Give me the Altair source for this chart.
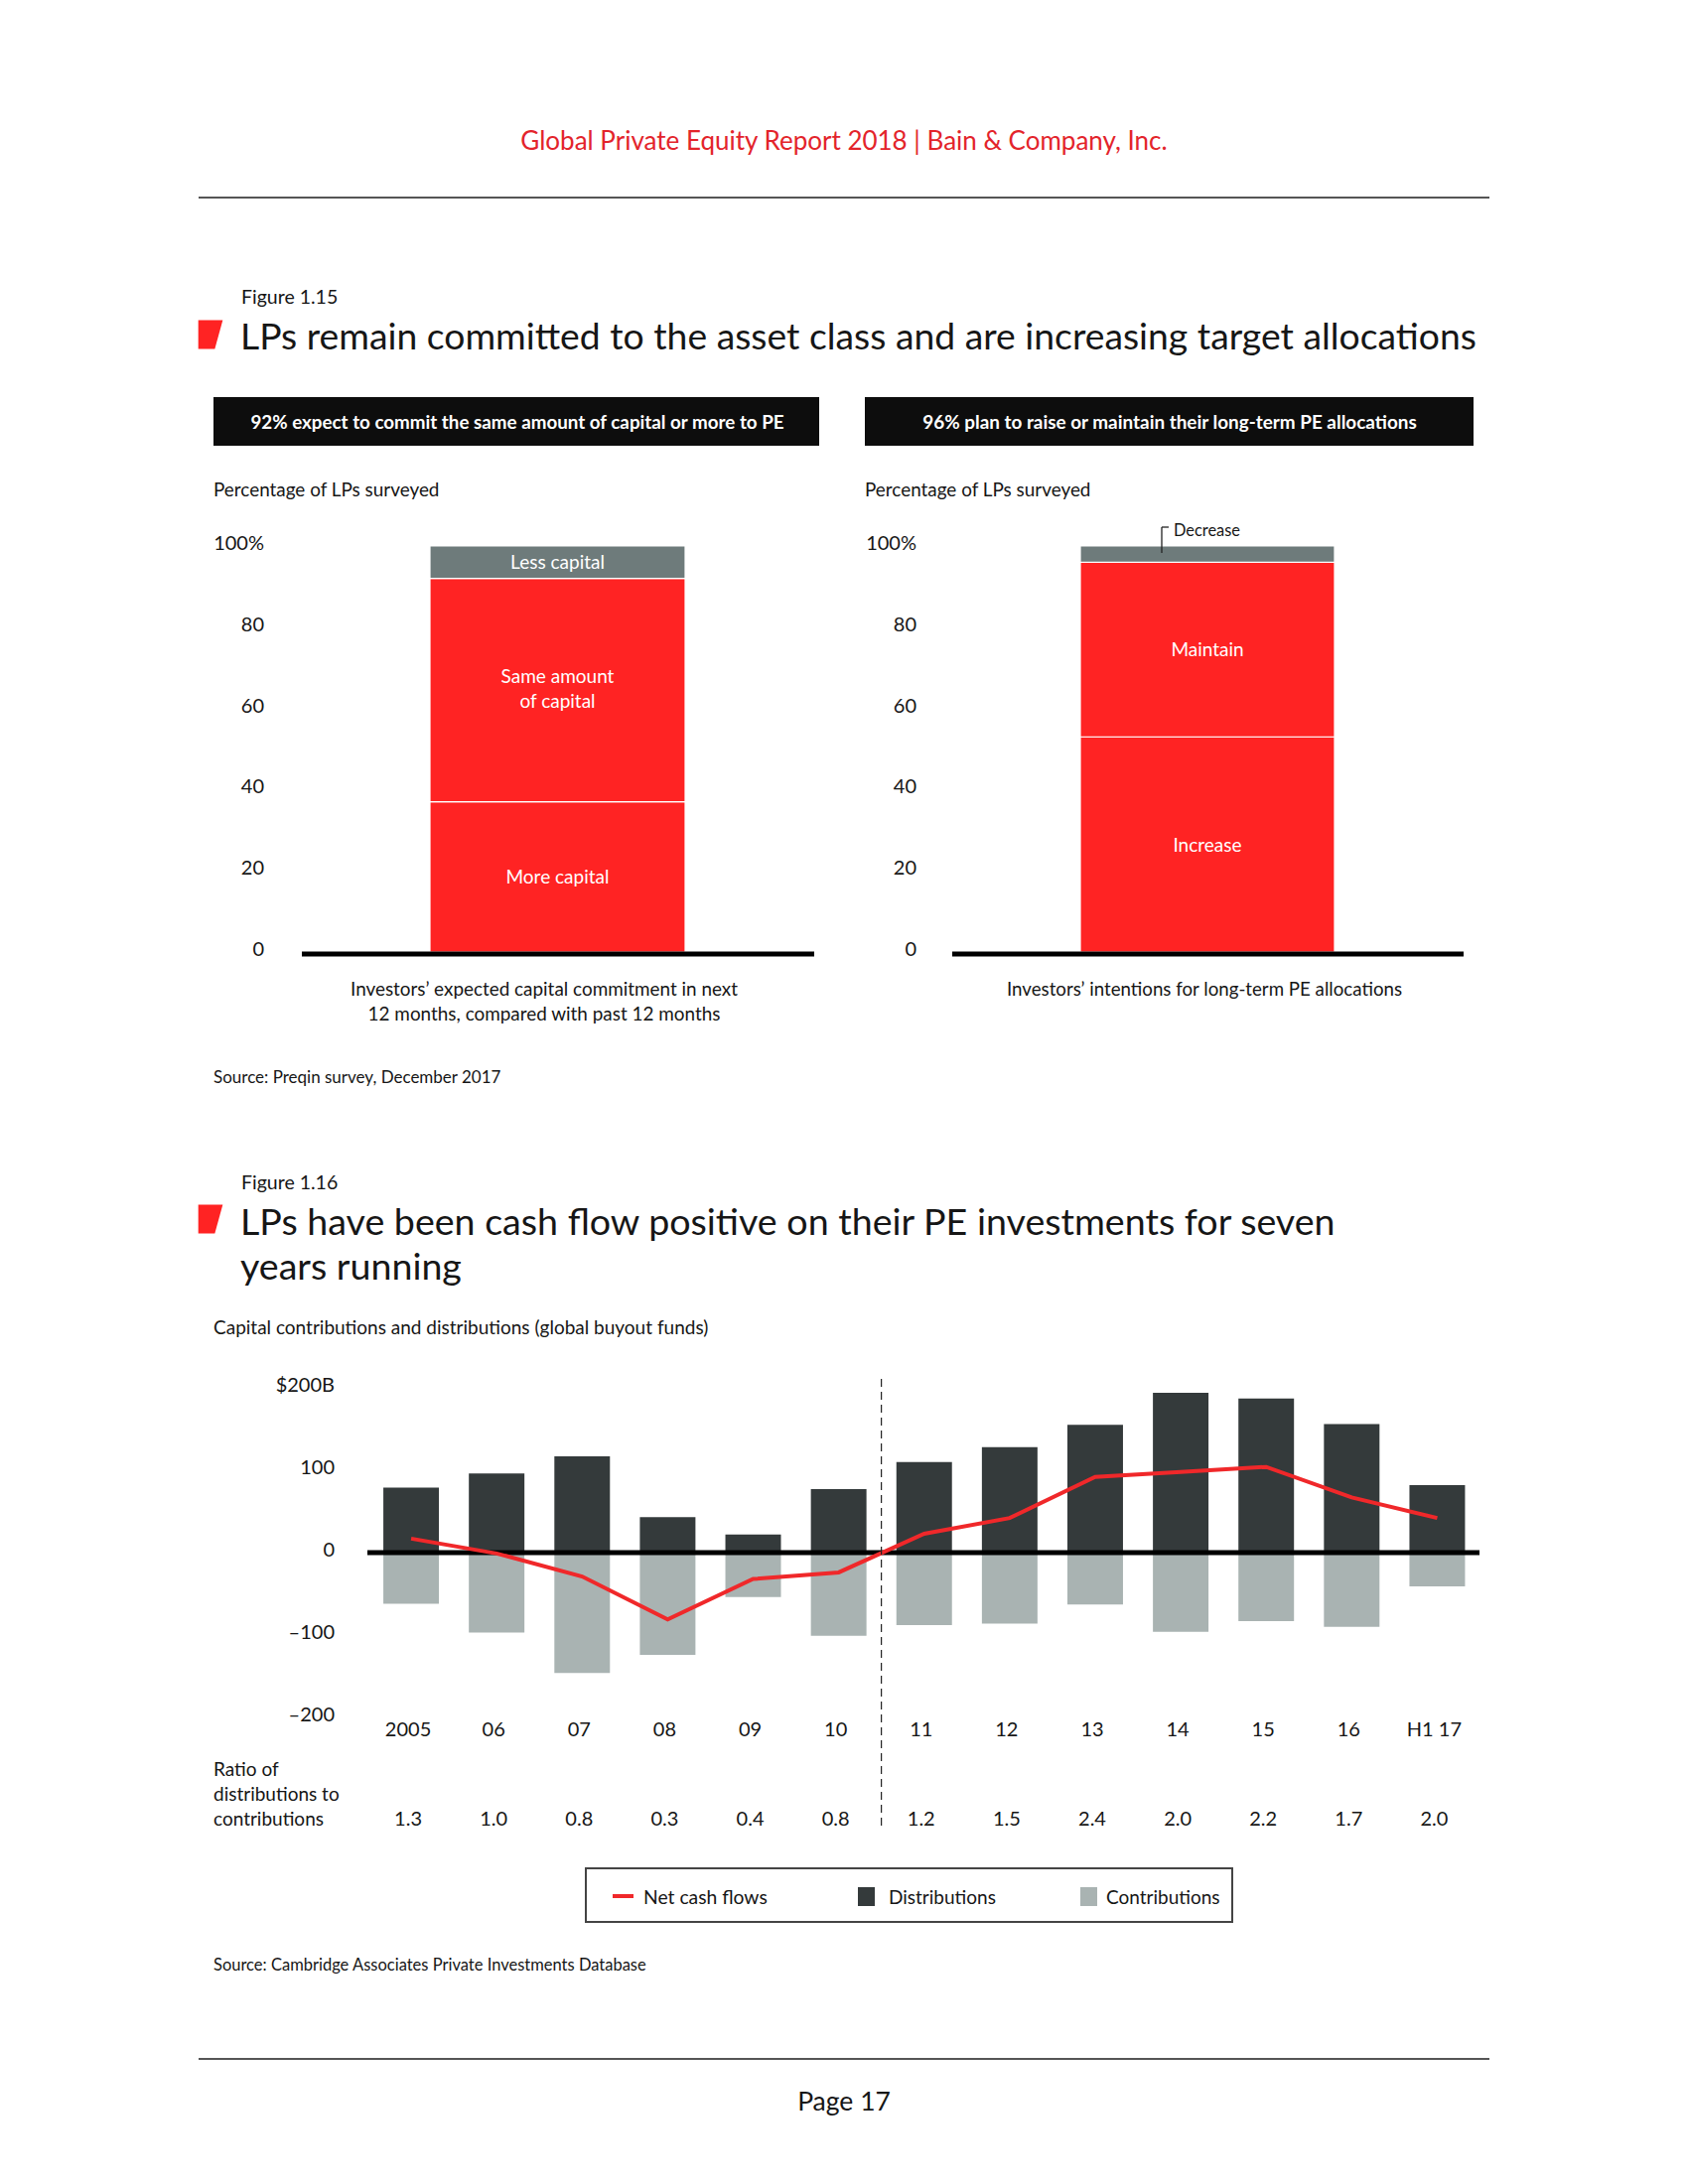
import altair as alt
import pandas as pd

# ---------------- data ----------------
HEADER = "Global Private Equity Report 2018 |  Bain & Company, Inc."
FIG_115 = "Figure 1.15"
TITLE_115 = "LPs remain committed to the asset class and are increasing target allocations"
BOX_LEFT = "92% expect to commit the same amount of capital or more to PE"
BOX_RIGHT = "96% plan to raise or maintain their long-term PE allocations"
PCT_TITLE = "Percentage of LPs surveyed"
CAPTION_LEFT = "Investors’ expected capital commitment in next\n12 months, compared with past 12 months"
CAPTION_RIGHT = "Investors’ intentions for long-term PE allocations"
SOURCE_115 = "Source: Preqin survey, December 2017"

commit_segments = ["More capital", "Same amount of capital", "Less capital"]
commit_values = [37, 55, 8]
commit_labels = ["More capital", "Same amount\nof capital", "Less capital"]

alloc_segments = ["Increase", "Maintain", "Decrease"]
alloc_values = [53, 43, 4]
alloc_labels = ["Increase", "Maintain", ""]
DECREASE_LABEL = "Decrease"

pct_ticks = [0, 20, 40, 60, 80, 100]
pct_tick_labels = ["0", "20", "40", "60", "80", "100%"]

FIG_116 = "Figure 1.16"
TITLE_116 = "LPs have been cash flow positive on their PE investments for seven\nyears running"
CF_TITLE = "Capital contributions and distributions (global buyout funds)"
RATIO_TITLE = "Ratio of\ndistributions to\ncontributions"
SOURCE_116 = "Source: Cambridge Associates Private Investments Database"
PAGE = "Page 17"

years = ["2005", "06", "07", "08", "09", "10", "11", "12", "13", "14", "15", "16", "H1 17"]
distributions = [79, 96, 117, 43, 22, 77, 110, 128, 155, 194, 187, 156, 82]
contributions = [-62, -97, -146, -124, -54, -101, -88, -86, -63, -96, -83, -90, -41]
net_cash_flows = [17, -1, -29, -81, -32, -24, 23, 42, 92, 98, 104, 67, 42]
ratios = ["1.3", "1.0", "0.8", "0.3", "0.4", "0.8", "1.2", "1.5", "2.4", "2.0", "2.2", "1.7", "2.0"]
usd_ticks = [200, 100, 0, -100, -200]
usd_tick_labels = ["$200B", "100", "0", "–100", "–200"]
legend_names = ["Net cash flows", "Distributions", "Contributions"]

# ---------------- style ----------------
FONT = "Lato"
INK = "#161616"
RED = "#FF2323"
LINE_RED = "#F0282A"
HEAD_RED = "#E3242B"
GREY = "#6E7B7B"
DARK = "#343A3B"
LIGHT = "#A9B3B2"
OFF = 8


def px(v):
    return v - OFF


def one():
    return pd.DataFrame({"k": [0]})


def label(text, x, y, size, color=INK, align="left", weight="normal", baseline="middle", lh=None):
    kw = dict(align=align, baseline=baseline, fontSize=size, font=FONT, color=color,
              fontWeight=weight, lineBreak="\n")
    if lh is not None:
        kw["lineHeight"] = lh
    return alt.Chart(pd.DataFrame({"t": [text]})).mark_text(**kw).encode(
        text="t:N", x=alt.value(px(x)), y=alt.value(px(y)))


def box(x1, y1, x2, y2, fill, stroke=None, sw=0):
    kw = dict(fill=fill)
    if stroke:
        kw.update(stroke=stroke, strokeWidth=sw)
    return alt.Chart(one()).mark_rect(**kw).encode(
        x=alt.value(px(x1)), x2=alt.value(px(x2)), y=alt.value(px(y1)), y2=alt.value(px(y2)))


def line(x1, y1, x2, y2, color, sw, dash=None):
    kw = dict(color=color, strokeWidth=sw)
    if dash:
        kw["strokeDash"] = dash
    return alt.Chart(one()).mark_rule(**kw).encode(
        x=alt.value(px(x1)), x2=alt.value(px(x2)), y=alt.value(px(y1)), y2=alt.value(px(y2)))


MARKER = "M -0.85 -1 L 0.85 -1 L 0.3 1 L -0.85 1 Z"


def marker(x, y):
    return alt.Chart(one()).mark_point(shape=MARKER, size=841, filled=True, fill=RED,
                                       stroke=None, opacity=1).encode(
        x=alt.value(px(x)), y=alt.value(px(y)))


layers = []

# header / footer
layers.append(label(HEADER, 850, 143, 26, color=HEAD_RED, align="center"))
layers.append(line(200, 199, 1500, 199, "#555555", 2))
layers.append(line(200, 2074, 1500, 2074, "#555555", 2))
layers.append(label(PAGE, 850, 2118, 26.5, align="center"))

# ---------------- Figure 1.15 ----------------
layers.append(label(FIG_115, 243, 300, 19.5))
layers.append(marker(212, 337))
layers.append(label(TITLE_115, 242, 341, 37.3))

layers.append(box(215, 400, 825, 449, "#0D0D0D"))
layers.append(box(871, 400, 1484, 449, "#0D0D0D"))
layers.append(label(BOX_LEFT, 521, 426, 18.8, color="white", align="center", weight="bold"))
layers.append(label(BOX_RIGHT, 1178, 426, 18.9, color="white", align="center", weight="bold"))
layers.append(label(PCT_TITLE, 215, 494, 18.9))
layers.append(label(PCT_TITLE, 871, 494, 18.9))

pct_y = alt.Scale(domain=[0, 100], range=[px(959), px(550)])
tick_df = pd.DataFrame({"v": pct_ticks, "t": pct_tick_labels})


def stacked_panel(key, segments, values, labels, colors, bar_x0, bar_x1, tick_x, base_x0, base_x1):
    df = pd.DataFrame({"bar": [key] * len(segments), "segment": segments, "value": values,
                       "label": labels, "order": list(range(len(segments)))})
    xs = alt.Scale(domain=[key], range=[px(bar_x0), px(bar_x1)], paddingInner=0, paddingOuter=0)
    out = []
    out.append(alt.Chart(df).mark_bar(stroke="white", strokeWidth=1.2).encode(
        x=alt.X("bar:N", scale=xs, axis=None),
        y=alt.Y("value:Q", stack="zero", scale=pct_y, axis=None),
        color=alt.Color("segment:N", scale=alt.Scale(domain=segments, range=colors), legend=None),
        order=alt.Order("order:Q")))
    base = alt.Chart(df).transform_stack(
        stack="value", groupby=["bar"], as_=["lo", "hi"], sort=[alt.SortField("order")]
    ).transform_calculate(mid="(datum.lo + datum.hi) / 2")
    enc = dict(x=alt.X("bar:N", scale=xs, axis=None),
               y=alt.Y("mid:Q", scale=pct_y, axis=None),
               text="label:N")
    out.append(base.transform_filter(
        "datum.label != '' && indexof(datum.label, '\\n') < 0"
    ).mark_text(color="white", fontSize=19, font=FONT, baseline="middle", dy=1).encode(**enc))
    out.append(base.transform_filter(
        "indexof(datum.label, '\\n') >= 0"
    ).mark_text(color="white", fontSize=19, font=FONT, lineBreak="\n", baseline="middle",
                lineHeight=25, dy=-13).encode(**enc))
    out.append(alt.Chart(tick_df).mark_text(align="right", baseline="middle", fontSize=20,
                                            font=FONT, color=INK, dy=-2).encode(
        y=alt.Y("v:Q", scale=pct_y, axis=None), x=alt.value(px(tick_x)), text="t:N"))
    out.append(alt.Chart(pd.DataFrame({"v": [0]})).mark_rule(color="black", strokeWidth=5, yOffset=2).encode(
        y=alt.Y("v:Q", scale=pct_y, axis=None), x=alt.value(px(base_x0)), x2=alt.value(px(base_x1))))
    return out


layers += stacked_panel("commit", commit_segments, commit_values, commit_labels,
                        [RED, RED, GREY], 433, 690, 266, 304, 820)
layers += stacked_panel("alloc", alloc_segments, alloc_values, alloc_labels,
                        [RED, RED, GREY], 1088, 1344, 923, 959, 1474)

# Decrease callout
layers.append(line(1170, 531, 1170, 557, "#222222", 1.3))
layers.append(line(1170, 531, 1177, 531, "#222222", 1.3))
layers.append(label(DECREASE_LABEL, 1182, 535, 16.4))

layers.append(label(CAPTION_LEFT, 548, 997, 18.9, align="center", lh=25))
layers.append(label(CAPTION_RIGHT, 1213, 997, 18.7, align="center"))
layers.append(label(SOURCE_115, 215, 1086, 17))

# ---------------- Figure 1.16 ----------------
layers.append(label(FIG_116, 243, 1192, 19.5))
layers.append(marker(212, 1228))
layers.append(label(TITLE_116, 242, 1233, 37.6, lh=45))
layers.append(label(CF_TITLE, 215, 1338, 19))

cf = pd.DataFrame({"year": years, "idx": list(range(len(years))), "Distributions": distributions,
                   "Contributions": contributions, "net": net_cash_flows, "ratio": ratios})
year_x = alt.Scale(domain=years, range=[px(371), px(1490.5)], paddingInner=0.35, paddingOuter=0.175)
usd_y = alt.Scale(domain=[-200, 200], range=[px(1730), px(1398)])

layers.append(alt.Chart(cf).transform_fold(["Distributions", "Contributions"], as_=["series", "value"]).mark_bar().encode(
    x=alt.X("year:N", scale=year_x, axis=None),
    y=alt.Y("value:Q", scale=usd_y, axis=None, stack=None),
    color=alt.Color("series:N", scale=alt.Scale(domain=["Distributions", "Contributions"], range=[DARK, LIGHT]), legend=None)))

layers.append(alt.Chart(pd.DataFrame({"v": [0]})).mark_rule(color="black", strokeWidth=5).encode(
    y=alt.Y("v:Q", scale=usd_y, axis=None), x=alt.value(px(370)), x2=alt.value(px(1490))))

layers.append(alt.Chart(cf).mark_line(color=LINE_RED, strokeWidth=4).encode(
    x=alt.X("year:N", scale=year_x, axis=None),
    y=alt.Y("net:Q", scale=usd_y, axis=None),
    order=alt.Order("idx:Q")))

layers.append(alt.Chart(cf).transform_filter("datum.year == '10'").mark_rule(
    color="#222222", strokeWidth=1.2, strokeDash=[8, 5], xOffset=15).encode(
    x=alt.X("year:N", scale=year_x, axis=None, bandPosition=1),
    y=alt.value(px(1389)), y2=alt.value(px(1842))))

layers.append(alt.Chart(pd.DataFrame({"v": usd_ticks, "t": usd_tick_labels})).mark_text(
    align="right", baseline="middle", fontSize=20, font=FONT, color=INK, dy=-2).encode(
    y=alt.Y("v:Q", scale=usd_y, axis=None), x=alt.value(px(337)), text="t:N"))

layers.append(alt.Chart(cf).mark_text(baseline="middle", fontSize=20, font=FONT, color=INK, dx=-3).encode(
    x=alt.X("year:N", scale=year_x, axis=None), y=alt.value(px(1743)), text="year:N"))
layers.append(alt.Chart(cf).mark_text(baseline="middle", fontSize=20, font=FONT, color=INK, dx=-3).encode(
    x=alt.X("year:N", scale=year_x, axis=None), y=alt.value(px(1833)), text="ratio:N"))
layers.append(label(RATIO_TITLE, 215, 1783, 19, lh=25))

# legend
layers.append(box(590, 1882, 1241, 1936, "white", stroke="#444444", sw=2))
layers.append(line(617, 1910, 638, 1910, LINE_RED, 4))
layers.append(label(legend_names[0], 648, 1912, 19.3))
layers.append(box(864, 1901, 881, 1920, DARK))
layers.append(label(legend_names[1], 895, 1912, 19))
layers.append(box(1088, 1901, 1105, 1920, LIGHT))
layers.append(label(legend_names[2], 1114, 1912, 19))

layers.append(label(SOURCE_116, 215, 1980, 16.5))

chart = alt.layer(*layers).resolve_scale(
    x="independent", y="independent", color="independent"
).properties(
    width=1684, height=2184, autosize=alt.AutoSizeParams(type="none"), padding=0
).configure_view(stroke=None)

chart.save("out.html", embed_options={"renderer": "svg", "actions": False})
